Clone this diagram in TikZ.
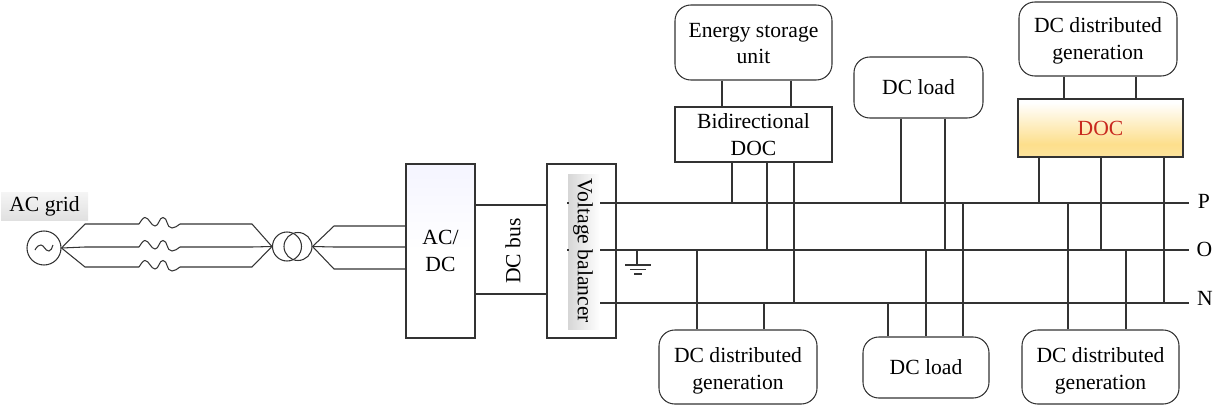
\documentclass[tikz,border=0pt]{standalone}
\usepackage{fontspec}
\setmainfont{Liberation Serif}
\definecolor{linegray}{gray}{.2}
\definecolor{docred}{HTML}{C8281E}
\definecolor{docgold}{HTML}{FDDF8C}
\pgfdeclareverticalshading{docshade}{100bp}{color(0bp)=(white); color(25bp)=(docgold!85!white); color(36bp)=(docgold); color(72bp)=(white); color(100bp)=(white)}
\tikzset{
  wire/.style={linegray,line width=.6pt},
  boxsize/.style 2 args={minimum width=#1*.02cm,minimum height=#2*.02cm},
  labeltext/.style={inner sep=0pt,font=\fontsize{12.3}{15}\selectfont},
  sourcebox/.style={labeltext,draw=linegray,line width=.6pt,rounded corners=9pt,align=center},
  genbox/.style={sourcebox,boxsize={158}{74}},
  convbox/.style={labeltext,draw=linegray,line width=.6pt,align=center},
  roundsym/.style={draw=linegray,line width=.6pt,circle,inner sep=0pt},
  coil/.pic={\draw[wire] (0,0) .. controls (2,-3) and (4,-6.5) .. (6,-6.5) .. controls (10,-6.5) and (12,2) .. (16,2) .. controls (20,2) and (20,-6.5) .. (24,-6.5) .. controls (29,-6.5) and (27,4) .. (33,4) .. controls (36,4) and (38,2) .. (41,0);}
}
\begin{document}
\begin{tikzpicture}[x=.02cm,y=-.02cm]
\useasboundingbox (0,0) rectangle (1225,409);
% source side
\node[labeltext,boxsize={87}{28},top color=black!4,bottom color=black!12] (acgrid) at (44.5,206) {AC grid};
\node[roundsym,minimum size=34*.02cm] (src) at (44,248) {};
\draw[wire] (35,250) .. controls (37,246) and (39,245) .. (41,245) .. controls (44,245) and (45,251) .. (49,251) .. controls (51,251) and (52,248) .. (53,245);
\node[roundsym,minimum size=29*.02cm] (trafoa) at (287,246.5) {};
\node[roundsym,minimum size=28*.02cm] (trafob) at (298,246.5) {};
\foreach \y in {224,247,267}{
  \draw[wire] (src.east) -- (85,\y) -- (139,\y);
  \draw[wire] (180,\y) -- (252,\y) -- (trafoa.west);
  \draw[wire] (139,\y) pic {coil};
}
% converters
\node[convbox,boxsize={69}{174},bottom color=white,top color=blue!4!white,middle color=white] (acdc) at (440.5,251) {AC/\\DC};
\node[convbox,boxsize={69}{174}] (vb) at (581.5,251) {};
\node[inner sep=0pt,boxsize={32}{155},left color=black!16,right color=white] (vbshade) at (584,251.5) {};
\node[labeltext,rotate=-90] (vbtext) at (583,251) {Voltage balancer};
\node[labeltext,rotate=90] (dcbus) at (513,251) {DC bus};
\foreach \y in {226,247,269}
  \draw[wire] (trafob.east) -- (334,\y) -- (acdc.west |- 0,\y);
\draw[wire] (acdc.east |- 0,205) -- (vb.west |- 0,205);
\draw[wire] (acdc.east |- 0,294) -- (vb.west |- 0,294);
% buses
\coordinate (busP) at (600,203);
\coordinate (busO) at (600,250);
\coordinate (busN) at (600,303);
\draw[wire] (busP) -- (1189,203);
\draw[wire] (busO) -- (1189,250);
\draw[wire] (busN) -- (1189,303);
\draw[wire] (567,203) -- (568.5,203);
\draw[wire] (567,250) -- (568.5,250);
\node[labeltext] (plabel) at (1204,201) {P};
\node[labeltext] (olabel) at (1204.5,249.5) {O};
\node[labeltext] (nlabel) at (1205,298.5) {N};
% ground
\coordinate (gnd) at (637,250);
\draw[wire] (gnd) -- (637,265);
\draw[wire] (625,265) -- (651,265);
\draw[wire] (630,269.5) -- (646,269.5);
\draw[wire] (634,274) -- (642,274);
% upper blocks
\node[sourcebox,boxsize={157}{75}] (ess) at (753.5,42.5) {\rule{0pt}{9.2pt}Energy storage\\unit};
\node[convbox,boxsize={157}{55}] (bidoc) at (753.5,134.5) {Bidirectional\\DOC};
\node[sourcebox,boxsize={129}{61}] (dcloada) at (918.5,87.5) {DC load};
\node[genbox] (dga) at (1098,39) {\rule{0pt}{10.7pt}DC distributed\\generation};
\node[convbox,boxsize={165}{58},shading=docshade,text=docred] (doc) at (1100.5,128) {DOC};
% lower blocks
\node[genbox] (dgb) at (738,367) {\rule{0pt}{13pt}DC distributed\\generation};
\node[sourcebox,boxsize={126}{61}] (dcloadb) at (926,367.5) {DC load};
\node[genbox,boxsize={157}{74}] (dgc) at (1100.5,367) {\rule{0pt}{13pt}DC distributed\\generation};
% links between blocks
\foreach \x in {722,791}
  \draw[wire] (ess.south -| \x,0) -- (bidoc.north -| \x,0);
\foreach \x in {1064,1136}
  \draw[wire] (dga.south -| \x,0) -- (doc.north -| \x,0);
% taps on the buses
\foreach \nd/\x/\bus in {bidoc/732/busP,bidoc/767/busO,bidoc/794/busN,dcloada/901/busP,dcloada/945/busO,doc/1039/busP,doc/1101/busO,doc/1164/busN}
  \draw[wire] (\nd.south -| \x,0) -- (\x,0 |- \bus);
\foreach \nd/\x/\bus in {dgb/697/busO,dgb/764/busN,dcloadb/888/busN,dcloadb/926/busO,dcloadb/963/busP,dgc/1068/busP,dgc/1126/busO}
  \draw[wire] (\nd.north -| \x,0) -- (\x,0 |- \bus);
\end{tikzpicture}
\end{document}
